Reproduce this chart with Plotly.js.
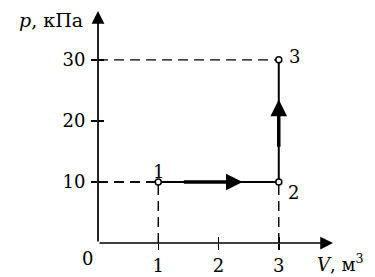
<!DOCTYPE html>
<html><head><meta charset="utf-8">
<script src="https://cdn.plot.ly/plotly-3.0.1.min.js"></script>
<style>html,body{margin:0;padding:0;background:#fff}#chart{width:375px;height:277px}</style>
</head><body><div id="chart"></div>
<script>
// state points of the process
const pointLabels = ['1', '2', '3'];
const pointV = [1, 3, 3];          // m^3
const pointP = [10, 10, 30];       // kPa
// direction arrows along the process (from -> to)
const arrowFromV = [1.4, 3];
const arrowFromP = [10, 15.5];
const arrowToV = [2.4, 3];
const arrowToP = [10, 23.5];
// tick values
const xTicks = [1, 2, 3];
const yTicks = [10, 20, 30];
const xMax = 3.9, yMax = 38;
const labelShiftX = [0, 15, 16];
const labelShiftY = [10, -11, 3];

const FONT = 'DejaVu Serif, Liberation Serif, serif';
const traces = [];
// dashed guides from each state point to both axes
const dash = {color: '#000', width: 1.4, dash: '10px,6px'};
pointV.forEach((v, i) => {
  traces.push({x: [0, v], y: [pointP[i], pointP[i]], mode: 'lines', line: dash, hoverinfo: 'skip'});
  if (i < 2) traces.push({x: [v, v], y: [0, pointP[i]], mode: 'lines', line: dash, hoverinfo: 'skip'});
});
// process path
traces.push({x: pointV, y: pointP, mode: 'lines', line: {color: '#000', width: 2}, hoverinfo: 'skip'});
// state points
traces.push({x: pointV, y: pointP, mode: 'markers',
  marker: {symbol: 'circle', size: 6, color: '#fff', line: {color: '#000', width: 1.5}}, hoverinfo: 'skip'});
// second axis pair for ticks crossing the axes
traces.push({x: [0], y: [0], xaxis: 'x2', yaxis: 'y2', mode: 'markers', marker: {opacity: 0}, hoverinfo: 'skip'});

const annotations = [];
// axis arrows
annotations.push({x: xMax, y: 0, ax: 0, ay: 0, axref: 'x', ayref: 'y', xref: 'x', yref: 'y', text: '',
  showarrow: true, arrowhead: 2, arrowwidth: 1.7, arrowsize: 1.5, arrowcolor: '#000', standoff: 0, startstandoff: 0});
annotations.push({x: 0, y: yMax, ax: 0, ay: 0, axref: 'x', ayref: 'y', xref: 'x', yref: 'y', text: '',
  showarrow: true, arrowhead: 2, arrowwidth: 1.7, arrowsize: 1.5, arrowcolor: '#000', standoff: 0, startstandoff: 0});
// process direction arrows
arrowToV.forEach((v, i) => {
  annotations.push({x: v, y: arrowToP[i], ax: arrowFromV[i], ay: arrowFromP[i], axref: 'x', ayref: 'y',
    xref: 'x', yref: 'y', text: '', showarrow: true, arrowhead: 2, arrowwidth: 3.5, arrowsize: 0.95,
    arrowcolor: '#000', standoff: 0});
});
// state point labels
pointLabels.forEach((t, i) => {
  annotations.push({x: pointV[i], y: pointP[i], text: t, showarrow: false, xshift: labelShiftX[i], yshift: labelShiftY[i],
    font: {family: FONT, size: 18, color: '#000'}});
});
// axis titles and origin (paper coordinates so they may lie outside the axis ranges)
annotations.push({x: -0.216 / xMax, y: 36.5 / yMax, xref: 'paper', yref: 'paper', text: '<i>p</i>, кПа', showarrow: false,
  xanchor: 'right', yanchor: 'middle', font: {family: FONT, size: 19, color: '#000'}});
annotations.push({x: 3.6 / xMax, y: -3.28 / yMax, xref: 'paper', yref: 'paper', text: '<i>V</i>, м<sup>3</sup>', showarrow: false,
  xanchor: 'left', yanchor: 'middle', font: {family: FONT, size: 18, color: '#000'}});
annotations.push({x: -0.166 / xMax, y: -2.46 / yMax, xref: 'paper', yref: 'paper', text: '0', showarrow: false,
  xanchor: 'center', yanchor: 'middle', font: {family: FONT, size: 18, color: '#000'}});

const axBase = {showgrid: false, zeroline: false, showline: false, fixedrange: true,
  tickcolor: '#000', tickwidth: 1.5, ticklen: 6, tickfont: {family: FONT, size: 18, color: '#000'}};
const layout = {
  width: 375, height: 277, margin: {l: 98, r: 42, t: 11, b: 34},
  paper_bgcolor: '#fff', plot_bgcolor: 'rgba(0,0,0,0)', showlegend: false,
  xaxis: Object.assign({}, axBase, {range: [0, xMax], tickmode: 'array', tickvals: xTicks,
    ticktext: xTicks.map(String), ticks: 'outside', ticklabelstandoff: 0}),
  yaxis: Object.assign({}, axBase, {range: [0, yMax], tickmode: 'array', tickvals: yTicks,
    ticktext: yTicks.map(String), ticks: 'outside', ticklabelstandoff: 2}),
  xaxis2: Object.assign({}, axBase, {range: [0, xMax], overlaying: 'x', tickmode: 'array', tickvals: xTicks,
    ticks: 'inside', showticklabels: false}),
  yaxis2: Object.assign({}, axBase, {range: [0, yMax], overlaying: 'y', tickmode: 'array', tickvals: yTicks,
    ticks: 'inside', showticklabels: false}),
  annotations: annotations
};
Plotly.newPlot('chart', traces, layout, {staticPlot: true, displayModeBar: false});
</script></body></html>
